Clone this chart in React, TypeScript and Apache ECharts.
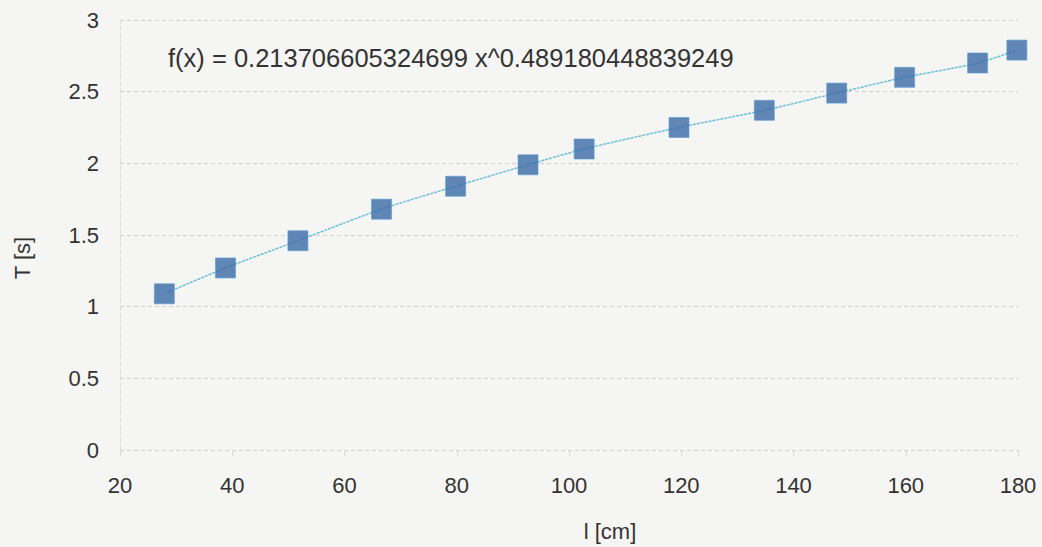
import React, { useEffect, useRef } from "react";
import * as echarts from "echarts";

const lengthsCm = [27.9, 38.8, 51.7, 66.6, 79.8, 92.7, 102.7, 119.6, 134.8, 147.7, 159.8, 172.8, 179.8];
const periodsS = [1.09, 1.27, 1.46, 1.68, 1.84, 1.99, 2.1, 2.25, 2.37, 2.49, 2.6, 2.7, 2.79];
const equationText = "f(x) = 0.213706605324699 x^0.489180448839249";
const xAxisName = "l [cm]";
const yAxisName = "T [s]";

export default function App() {
  const ref = useRef<HTMLDivElement>(null);
  useEffect(() => {
    if (!ref.current) return;
    const chart = echarts.init(ref.current, undefined, { renderer: "svg" });
    const pts = lengthsCm.map((x, i) => [x, periodsS[i]]);
    const font = "'Liberation Sans', Arial, sans-serif";
    chart.setOption({
      animation: false,
      backgroundColor: "#f5f5f4",
      grid: { left: 120, right: 24, top: 20, bottom: 97 },
      xAxis: {
        type: "value",
        min: 20,
        max: 180,
        interval: 20,
        axisLine: { show: false },
        axisTick: { show: true, length: 6, lineStyle: { color: "#d8d8d8" } },
        axisLabel: { fontFamily: font, fontSize: 22, color: "#333", margin: 24 },
        splitLine: { show: false },
      },
      yAxis: {
        type: "value",
        min: 0,
        max: 3,
        interval: 0.5,
        axisLine: { show: true, lineStyle: { color: "#dcdcdc", type: [4, 3] } },
        axisTick: { show: false },
        axisLabel: { fontFamily: font, fontSize: 22, color: "#333", margin: 21 },
        splitLine: { show: true, lineStyle: { color: "#cfcfcf", type: [4, 3], width: 1 } },
      },
      graphic: [
        {
          type: "text",
          x: 168,
          y: 58,
          style: {
            text: equationText,
            font: `25.5px ${font}`,
            fill: "#333",
            verticalAlign: "middle",
          },
        },
        {
          type: "text",
          x: 610,
          y: 531,
          style: {
            text: xAxisName,
            font: `22px ${font}`,
            fill: "#333",
            align: "center",
            verticalAlign: "middle",
          },
        },
        {
          type: "text",
          x: 22,
          y: 258,
          rotation: Math.PI / 2,
          style: {
            text: yAxisName,
            font: `22px ${font}`,
            fill: "#333",
            align: "center",
            verticalAlign: "middle",
          },
        },
      ],
      series: [
        {
          type: "line",
          data: pts,
          smooth: 0.3,
          symbol: "none",
          lineStyle: { color: "#6cbfd9", width: 1.5, type: [3, 1] },
          z: 2,
        },
        {
          type: "scatter",
          data: pts,
          symbol: "rect",
          symbolSize: 20,
          itemStyle: { color: "#3b6aa6", borderColor: "#5a9fd0", borderWidth: 0.8 },
          z: 3,
        },
      ],
    });
    return () => chart.dispose();
  }, []);
  return (
    <div
      ref={ref}
      style={{ position: "fixed", left: 0, top: 0, width: 1042, height: 547 }}
    />
  );
}
